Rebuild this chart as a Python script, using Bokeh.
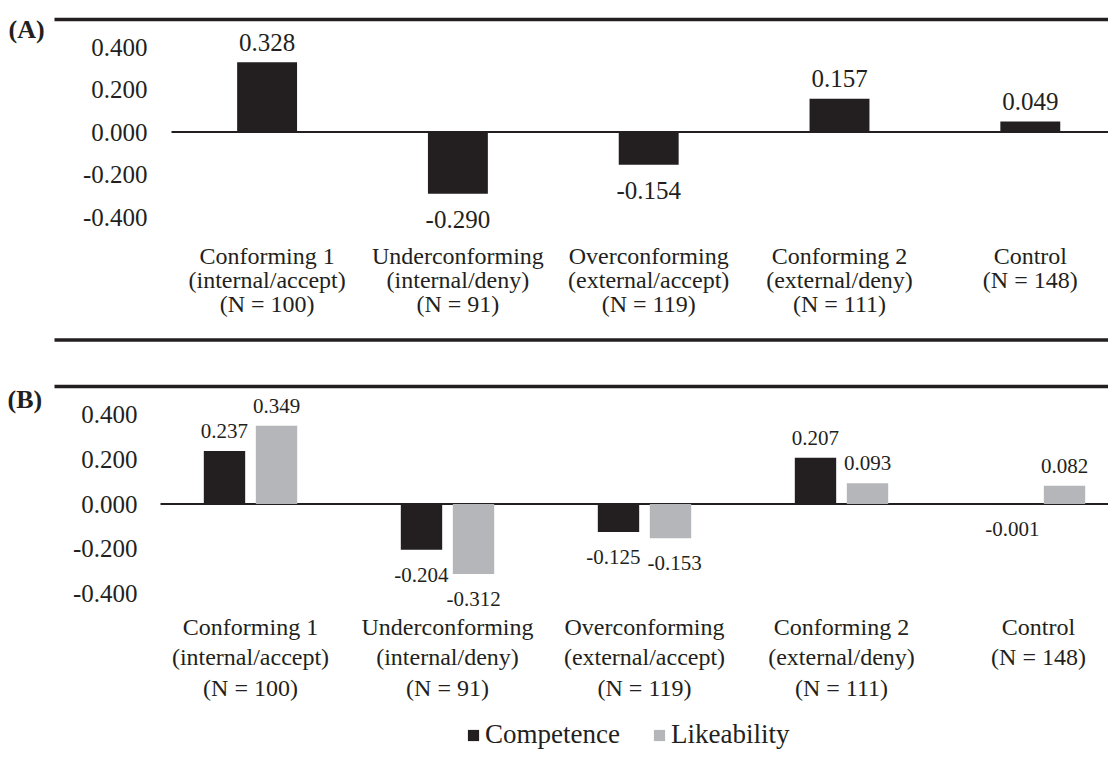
from bokeh.plotting import figure
from bokeh.layouts import column
from bokeh.models import ColumnDataSource, Legend, LegendItem, Range1d
from bokeh.core.properties import value
from bokeh.embed import file_html
from bokeh.resources import INLINE

# ---------------- data ----------------
group_names = ["Conforming 1", "Underconforming", "Overconforming", "Conforming 2", "Control"]
group_conditions = ["(internal/accept)", "(internal/deny)", "(external/accept)", "(external/deny)", ""]
group_sizes = [100, 91, 119, 111, 148]

competence_a = [0.328, -0.290, -0.154, 0.157, 0.049]
competence_b = [0.237, -0.204, -0.125, 0.207, -0.001]
likeability_b = [0.349, -0.312, -0.153, 0.093, 0.082]

y_ticks = [0.4, 0.2, 0.0, -0.2, -0.4]
series_names = ["Competence", "Likeability"]
panel_tags = ["(A)", "(B)"]

# ---------------- style ----------------
FONT = value("Liberation Serif")
INK = "#231f20"
DARK = "#231f20"
GREY = "#b5b6b9"
FIG_W = 1108
PAGE_X0 = 0


def label_lines(i):
    lines = [group_names[i], group_conditions[i], f"(N = {group_sizes[i]})"]
    return [l for l in lines if l]


def make_panel(top_py, height, cx0, cw, zero_py, ppu, tick_px, zero_px,
               rule_top_py, rule_bot_py, line0_py, line_gap):
    """Build one panel. px / py are page pixel positions (layout only)."""
    def X(px):
        return (px - cx0) / cw

    def Y(py):
        return (zero_py - py) / ppu

    right_px = PAGE_X0 + FIG_W
    p = figure(width=FIG_W, height=height,
               x_range=Range1d(X(PAGE_X0), X(right_px)),
               y_range=Range1d(Y(top_py + height), Y(top_py)),
               x_axis_type=None, y_axis_type=None,
               toolbar_location=None, output_backend="svg", min_border=0)
    p.outline_line_color = None
    p.background_fill_color = "white"
    p.border_fill_color = "white"

    # horizontal rules
    rules_y = [Y(py) for py in (rule_top_py, rule_bot_py) if py is not None]
    p.segment(x0=[X(54)] * len(rules_y), y0=rules_y, x1=[X(right_px + 5)] * len(rules_y),
              y1=rules_y, line_width=3.5, line_color=INK)
    # zero line
    p.segment(x0=[X(zero_px)], y0=[0], x1=[X(right_px + 5)], y1=[0], line_width=2, line_color=INK)

    # y tick labels
    p.text(x=[X(tick_px)] * len(y_ticks), y=y_ticks, text=[f"{t:.3f}" for t in y_ticks],
           text_align="right", text_baseline="middle", text_font=FONT,
           text_font_size="25px", text_color=INK)

    # category labels
    xs, ys, ts = [], [], []
    for i in range(len(group_names)):
        for k, line in enumerate(label_lines(i)):
            xs.append(i)
            ys.append(Y(line0_py + k * line_gap))
            ts.append(line)
    p.text(x=xs, y=ys, text=ts, text_align="center", text_baseline="middle",
           text_font=FONT, text_font_size="24px", text_color=INK)
    return p, X, Y


def value_labels(p, xs, vals, size, up, down, xo=None):
    src = ColumnDataSource(dict(
        x=xs, y=vals, t=[f"{v:.3f}" for v in vals],
        yo=[-up if v > 0 else down for v in vals],
        xo=xo if xo is not None else [0] * len(vals)))
    p.text(x="x", y="y", text="t", x_offset="xo", y_offset="yo", source=src, text_align="center",
           text_baseline="middle", text_font=FONT, text_font_size=size, text_color=INK)


idx = list(range(len(group_names)))

# ---------------- panel A ----------------
pa, XA, YA = make_panel(top_py=0, height=360, cx0=266.6, cw=190.8, zero_py=131.5, ppu=212.5,
                        tick_px=147, zero_px=171, rule_top_py=19, rule_bot_py=339.5,
                        line0_py=255, line_gap=24.3)
pa.vbar(x=idx, top=competence_a, bottom=0, width=0.314, fill_color=DARK, line_color=None)
value_labels(pa, idx, competence_a, "25px", 20, 26)
pa.text(x=[XA(8)], y=[YA(28.5)], text=[panel_tags[0]], text_align="left", text_baseline="middle",
        text_font=FONT, text_font_style="bold", text_font_size="26px", text_color=INK)

# ---------------- panel B ----------------
B_PPU = 224
pb, XB, YB = make_panel(top_py=360, height=404, cx0=250, cw=197, zero_py=503.5, ppu=B_PPU,
                        tick_px=137, zero_px=160, rule_top_py=386, rule_bot_py=None,
                        line0_py=626, line_gap=30.7)
off = 0.132
bw = 0.21
xc = [i - off for i in idx]
xl = [i + off for i in idx]
rc = pb.vbar(x=xc, top=competence_b, bottom=0, width=bw, fill_color=DARK, line_color=None)
rl = pb.vbar(x=xl, top=likeability_b, bottom=0, width=bw, fill_color=GREY, line_color=None)

# push apart value labels that would sit at (almost) the same height in a group
nudge_c, nudge_l = [], []
for c, l in zip(competence_b, likeability_b):
    clash = (c < 0) == (l < 0) and abs(c - l) * B_PPU < 15
    nudge_c.append(-5 if clash else 0)
    nudge_l.append(4 if clash else 0)
value_labels(pb, xc, competence_b, "21px", 20, 25, nudge_c)
value_labels(pb, xl, likeability_b, "21px", 20, 25, nudge_l)
pb.text(x=[XB(7)], y=[YB(398.5)], text=[panel_tags[1]], text_align="left", text_baseline="middle",
        text_font=FONT, text_font_style="bold", text_font_size="26px", text_color=INK)

legend = Legend(items=[LegendItem(label=series_names[0], renderers=[rc]),
                       LegendItem(label=series_names[1], renderers=[rl])],
                orientation="horizontal", location=(466, 14),
                glyph_width=14, glyph_height=14, label_standoff=5, spacing=32,
                padding=0, margin=0, border_line_color=None, background_fill_alpha=0,
                label_text_font="Liberation Serif", label_text_font_size="27px",
                label_text_color=INK)
pb.add_layout(legend)

layout = column(pa, pb, spacing=0)
open("out.html", "w").write(file_html(layout, INLINE))
